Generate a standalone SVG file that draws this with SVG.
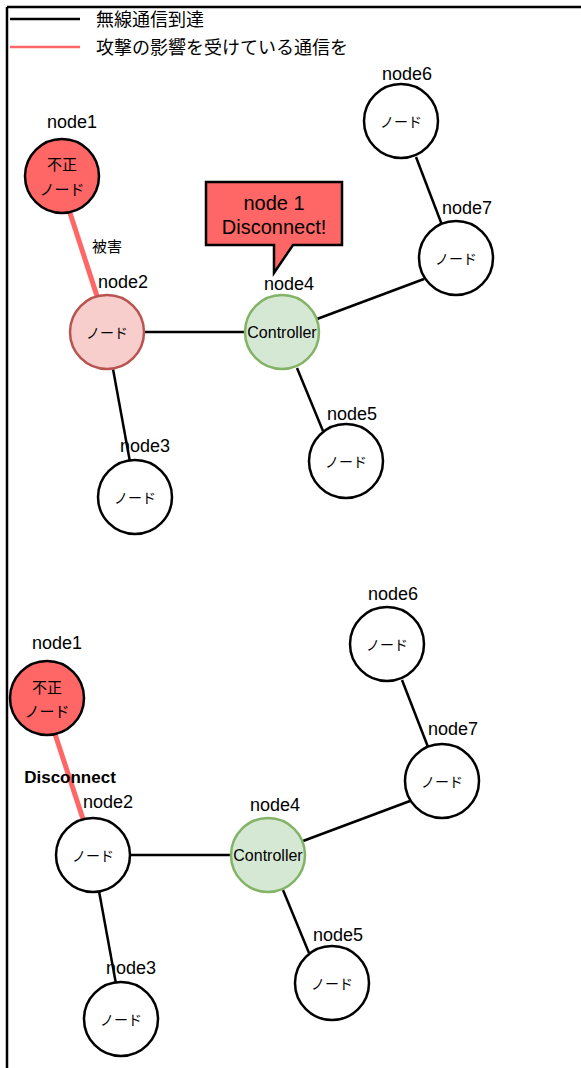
<svg xmlns="http://www.w3.org/2000/svg" width="581" height="1068" viewBox="0 0 581 1068">
<style>
text{font-family:"Liberation Sans","Noto Sans CJK JP",Arial,sans-serif;fill:#000}
.lbl{font-size:18px;text-anchor:middle}
.in{font-family:"Noto Sans CJK JP",sans-serif;font-size:14px;text-anchor:middle;dominant-baseline:central}
.jp{font-family:"Noto Sans CJK JP",sans-serif;font-size:15px;text-anchor:middle;dominant-baseline:central}
.ctl{font-size:16px;text-anchor:middle;dominant-baseline:central}
.n{fill:#fff;stroke:#000;stroke-width:2.5}
.bad{fill:#FF6666;stroke:#000;stroke-width:2.5}
.hurt{fill:#F8CECC;stroke:#B85450;stroke-width:2.5}
.ctrl{fill:#D5E8D4;stroke:#82B366;stroke-width:2.5}
.e{stroke:#000;stroke-width:2.5;fill:none}
.r{stroke:#FF6666;stroke-width:5;fill:none}
</style>
<rect x="0" y="0" width="581" height="1068" fill="#fff"/>
<g id="frame">
<line x1="7" y1="7" x2="581" y2="7" stroke="#000" stroke-width="2.5"/>
<line x1="7" y1="7" x2="7" y2="1068" stroke="#000" stroke-width="2.5"/>
</g>
<g id="legend">
<line x1="10" y1="19" x2="80" y2="19" stroke="#000" stroke-width="2.5"/>
<line x1="10" y1="47" x2="80" y2="47" stroke="#FF6666" stroke-width="2.5"/>
<text x="96" y="26" font-size="18" font-family="Noto Sans CJK JP, sans-serif">無線通信到達</text>
<text x="96" y="54" font-size="18" font-family="Noto Sans CJK JP, sans-serif">攻撃の影響を受けている通信を</text>
</g>
<g id="connectors">
<line class="r" x1="70" y1="213" x2="97" y2="296"/>
<line class="e" x1="144" y1="332" x2="245" y2="332"/>
<line class="e" x1="113" y1="369" x2="130" y2="462"/>
<line class="e" x1="317" y1="319" x2="424" y2="279"/>
<line class="e" x1="297" y1="368" x2="323" y2="431"/>
<line class="e" x1="416" y1="157" x2="442" y2="225"/>
<line class="r" x1="55" y1="734" x2="83" y2="819"/>
<line class="e" x1="130" y1="855" x2="231" y2="855"/>
<line class="e" x1="99" y1="891" x2="116" y2="984"/>
<line class="e" x1="303" y1="841" x2="410" y2="801"/>
<line class="e" x1="283" y1="890" x2="309" y2="953"/>
<line class="e" x1="402" y1="680" x2="428" y2="747"/>
</g>
<g id="edge-labels">
<text x="107" y="252" font-size="15" text-anchor="middle" font-family="Noto Sans CJK JP, sans-serif">被害</text>
<text x="70" y="783" font-size="17" font-weight="bold" text-anchor="middle">Disconnect</text>
</g>
<g id="callout">
<path d="M206,182 H342 V245 H293 L274,273 V245 H206 Z" fill="#FF6666" stroke="#000" stroke-width="2.5"/>
<text x="274" y="210" font-size="20" text-anchor="middle">node 1</text>
<text x="274" y="234" font-size="20" text-anchor="middle">Disconnect!</text>
</g>
<g id="top-node1"><circle class="bad" cx="62" cy="176" r="37"/><text class="jp" x="62" y="163">不正</text><text class="jp" x="62" y="188">ノード</text><text class="lbl" x="72" y="128">node1</text></g>
<g id="top-node2"><circle class="hurt" cx="107" cy="332" r="37"/><text class="in" x="107" y="332">ノード</text><text class="lbl" x="123" y="288">node2</text></g>
<g id="top-node3"><circle class="n" cx="135" cy="497" r="37"/><text class="in" x="135" y="497">ノード</text><text class="lbl" x="145" y="452">node3</text></g>
<g id="top-node4"><circle class="ctrl" cx="282" cy="332" r="37"/><text class="ctl" x="282" y="332">Controller</text><text class="lbl" x="289" y="290">node4</text></g>
<g id="top-node5"><circle class="n" cx="346" cy="461" r="37"/><text class="in" x="346" y="461">ノード</text><text class="lbl" x="352" y="420">node5</text></g>
<g id="top-node6"><circle class="n" cx="401" cy="121" r="37"/><text class="in" x="401" y="121">ノード</text><text class="lbl" x="407" y="80">node6</text></g>
<g id="top-node7"><circle class="n" cx="456" cy="258" r="37"/><text class="in" x="456" y="258">ノード</text><text class="lbl" x="467" y="214">node7</text></g>
<g id="bot-node1"><circle class="bad" cx="47" cy="698" r="37"/><text class="jp" x="47" y="686">不正</text><text class="jp" x="47" y="710">ノード</text><text class="lbl" x="57" y="649">node1</text></g>
<g id="bot-node2"><circle class="n" cx="93" cy="855" r="37"/><text class="in" x="93" y="855">ノード</text><text class="lbl" x="108" y="808">node2</text></g>
<g id="bot-node3"><circle class="n" cx="121" cy="1019" r="37"/><text class="in" x="121" y="1019">ノード</text><text class="lbl" x="131" y="974">node3</text></g>
<g id="bot-node4"><circle class="ctrl" cx="268" cy="855" r="37"/><text class="ctl" x="268" y="855">Controller</text><text class="lbl" x="275" y="811">node4</text></g>
<g id="bot-node5"><circle class="n" cx="332" cy="983" r="37"/><text class="in" x="332" y="983">ノード</text><text class="lbl" x="338" y="941">node5</text></g>
<g id="bot-node6"><circle class="n" cx="387" cy="644" r="37"/><text class="in" x="387" y="644">ノード</text><text class="lbl" x="393" y="600">node6</text></g>
<g id="bot-node7"><circle class="n" cx="442" cy="781" r="37"/><text class="in" x="442" y="781">ノード</text><text class="lbl" x="453" y="735">node7</text></g>
</svg>
